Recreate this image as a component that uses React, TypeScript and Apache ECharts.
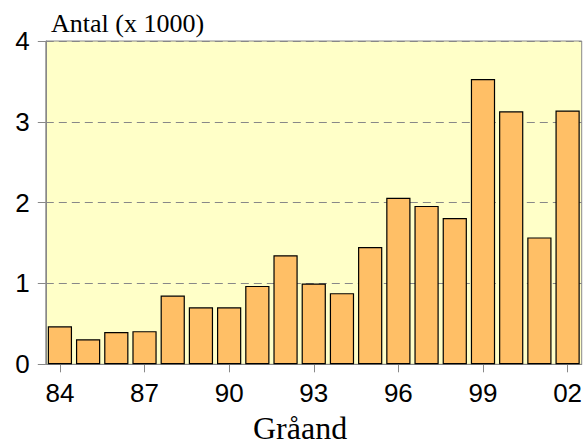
import React, { useEffect, useRef } from "react";
import * as echarts from "echarts";

const categories = ["84","85","86","87","88","89","90","91","92","93","94","95","96","97","98","99","00","01","02"];
const values = [0.47,0.31,0.40,0.41,0.85,0.705,0.705,0.97,1.35,1.0,0.88,1.45,2.06,1.96,1.81,3.53,3.13,1.57,3.14];
const yTicks = [0, 1, 2, 3, 4];
const titleText = "Antal (x 1000)";
const xAxisTitle = "Gråand";

export default function App() {
  const ref = useRef<HTMLDivElement>(null);
  useEffect(() => {
    if (!ref.current) return;
    const chart = echarts.init(ref.current, undefined, { renderer: "svg" });
    chart.setOption({
      animation: false,
      backgroundColor: "#ffffff",
      title: [
        {
          text: titleText,
          left: 46,
          top: 5,
          textStyle: { fontFamily: "Liberation Serif", fontSize: 26, fontWeight: "normal", color: "#000" },
        },
        {
          text: xAxisTitle,
          left: 253,
          top: 415,
          padding: 0,
          textStyle: { fontFamily: "Liberation Serif", fontSize: 32, lineHeight: 26, fontWeight: "normal", color: "#000" },
        },
      ],
      grid: {
        left: 45.8,
        right: 1,
        top: 41,
        bottom: 82.7,
        show: true,
        backgroundColor: "#FFFFC8",
        borderColor: "#888888",
        borderWidth: 1,
      },
      xAxis: {
        type: "category",
        data: categories,
        axisLine: { show: true, lineStyle: { color: "#888888", width: 1 } },
        axisTick: { show: true, alignWithLabel: true, interval: 2, length: 8, lineStyle: { color: "#888888" } },
        axisLabel: { interval: 2, margin: 16, fontFamily: "Liberation Sans", fontSize: 26, color: "#000" },
      },
      yAxis: {
        type: "value",
        min: yTicks[0],
        max: yTicks[yTicks.length - 1],
        interval: 1,
        axisLine: { show: true, lineStyle: { color: "#888888", width: 1 } },
        axisTick: { show: true, length: 8, lineStyle: { color: "#888888" } },
        axisLabel: { margin: 16, fontFamily: "Liberation Sans", fontSize: 26, color: "#000" },
        splitLine: { show: true, lineStyle: { color: "#888888", type: [8, 5], width: 1 } },
      },
      series: [
        {
          type: "bar",
          data: values,
          barCategoryGap: "14%",
          itemStyle: { color: "#FFBF66", borderColor: "#000000", borderWidth: 1.2 },
        },
      ],
    });
    return () => chart.dispose();
  }, []);
  return <div ref={ref} style={{ position: "fixed", left: 0, top: 0, width: 585, height: 447 }} />;
}
